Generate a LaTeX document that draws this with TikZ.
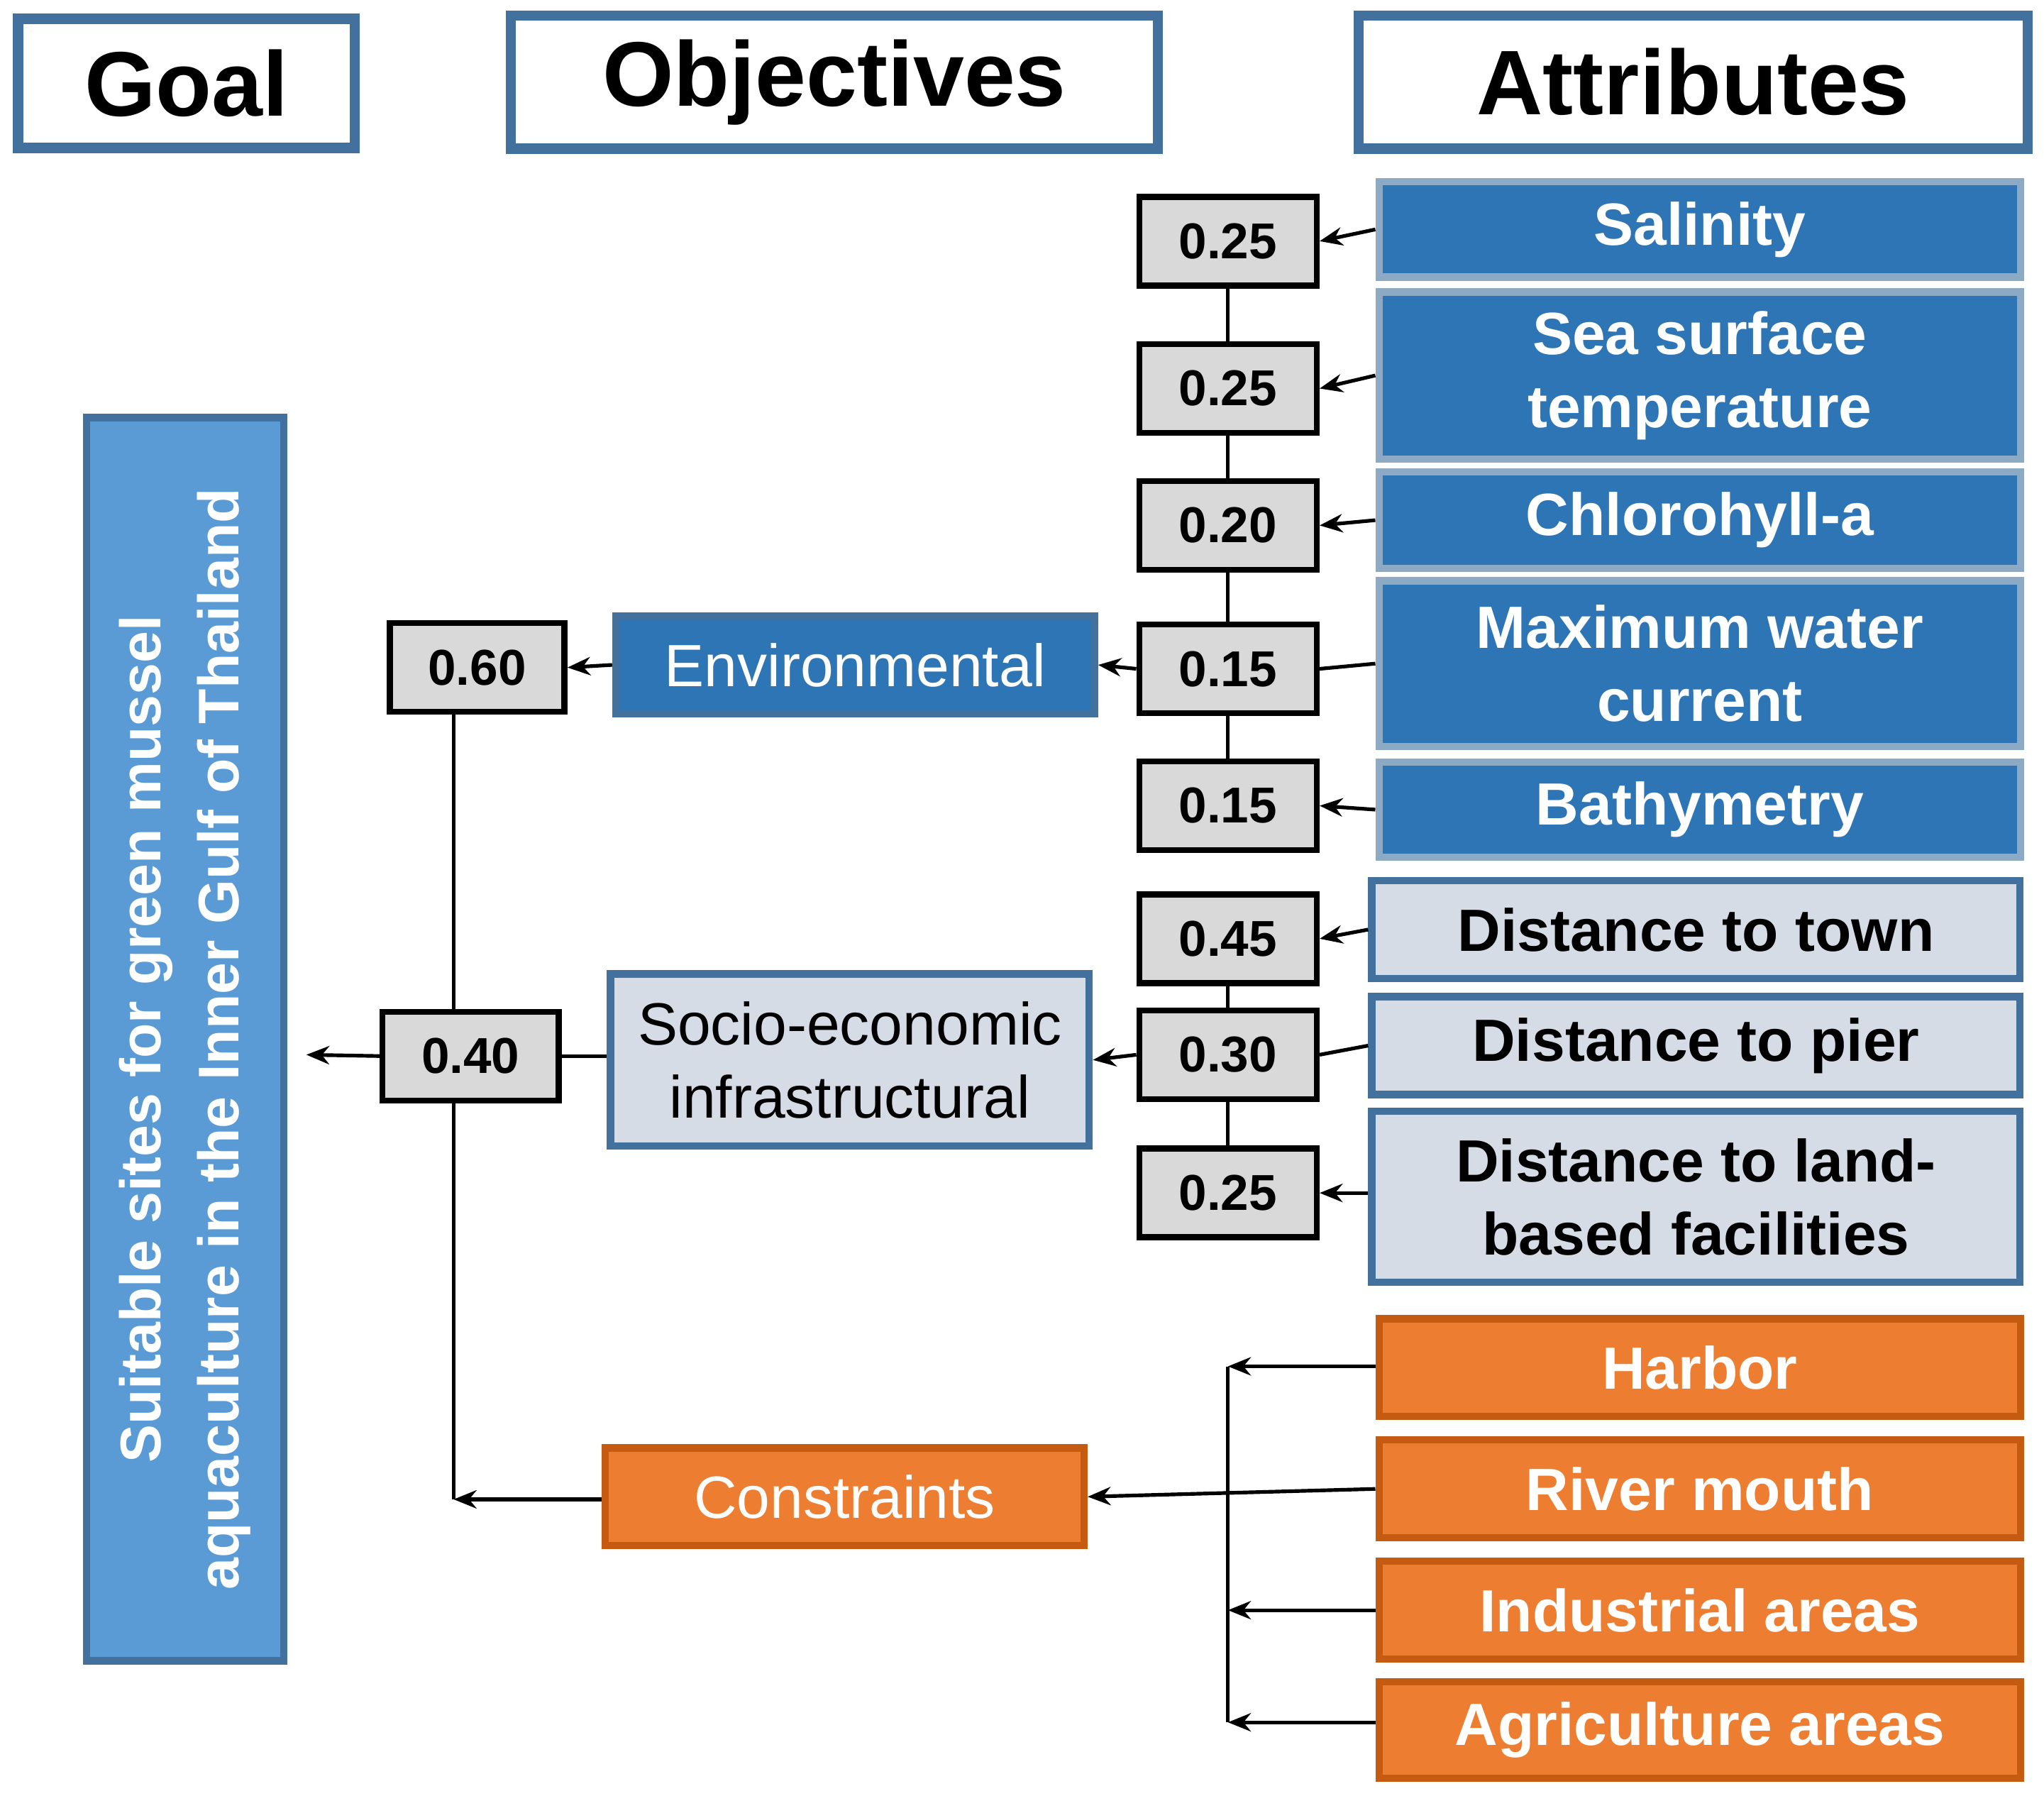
\documentclass[tikz,border=0pt]{standalone}
\usepackage{fontspec}
\setmainfont{Liberation Sans}
\usetikzlibrary{arrows.meta}
\definecolor{dblue}{HTML}{2E75B6}
\definecolor{lblue}{HTML}{5B9BD5}
\definecolor{gblue}{HTML}{D6DCE5}
\definecolor{bord}{HTML}{41719C}
\definecolor{org}{HTML}{ED7D31}
\definecolor{obord}{HTML}{C55A11}
\definecolor{wgray}{HTML}{D9D9D9}
\begin{document}
\begin{tikzpicture}[x=0.01cm,y=-0.01cm,
 head/.style={draw=bord,line width=2.2pt,fill=white,font=\fontsize{20}{24}\selectfont\bfseries,inner sep=0pt},
 att/.style={draw=bord!60,line width=1.6pt,fill=dblue,text=white,font=\fontsize{13}{16}\selectfont\bfseries,align=center,inner sep=0pt},
 satt/.style={draw=bord,line width=1.6pt,fill=gblue,text=black,font=\fontsize{13}{16}\selectfont\bfseries,align=center,inner sep=0pt},
 oatt/.style={draw=obord,line width=1.6pt,fill=org,text=white,font=\fontsize{13}{16}\selectfont\bfseries,align=center,inner sep=0pt},
 wt/.style={draw=black,line width=1.3pt,fill=wgray,font=\fontsize{11}{13}\selectfont\bfseries,minimum width=1.36cm,minimum height=0.68cm,inner sep=0pt},
 obj/.style={line width=1.6pt,font=\fontsize{13}{16}\selectfont,align=center,inner sep=0pt,minimum width=3.67cm},
 ln/.style={line width=0.8pt},
 ar/.style={line width=0.8pt,-{Stealth[length=5pt,width=4pt]}}]
\useasboundingbox (0,0) rectangle (1568,1377);
% headers
\node[head,minimum width=2.58cm,minimum height=0.99cm] (hg) at (143,64) {Goal};
\node[head,minimum width=4.96cm,minimum height=1.02cm] (ho) at (640,63) {Objectives};
\node[head,minimum width=5.13cm,minimum height=1.02cm] (ha) at (1299,63) {Attributes};
% goal
\node[draw=bord,line width=1.6pt,fill=lblue,text=white,minimum width=1.51cm,minimum height=9.53cm,inner sep=0pt] (goal) at (142,797) {};
\node[rotate=90,text=white,font=\fontsize{12.5}{17}\selectfont\bfseries,align=center] at (goal.center) {Suitable sites for green mussel\\aquaculture in the Inner Gulf of Thailand};
% attributes
\node[att,minimum width=4.92cm,minimum height=0.73cm] (a1) at (1304,176) {Salinity};
\node[att,minimum width=4.92cm,minimum height=1.28cm] (a2) at (1304,288) {Sea surface\\temperature};
\node[att,minimum width=4.92cm,minimum height=0.74cm] (a3) at (1304,399) {Chlorohyll-a};
\node[att,minimum width=4.92cm,minimum height=1.27cm] (a4) at (1304,509) {Maximum water\\current};
\node[att,minimum width=4.92cm,minimum height=0.73cm] (a5) at (1304,621) {Bathymetry};
\node[satt,minimum width=4.97cm,minimum height=0.75cm] (s1) at (1301,713) {Distance to town};
\node[satt,minimum width=4.97cm,minimum height=0.75cm] (s2) at (1301,802) {Distance to pier};
\node[satt,minimum width=4.97cm,minimum height=1.31cm] (s3) at (1301,918) {Distance to land-\\based facilities};
\node[oatt,minimum width=4.92cm,minimum height=0.75cm] (c1) at (1304,1049) {Harbor};
\node[oatt,minimum width=4.92cm,minimum height=0.75cm] (c2) at (1304,1142) {River mouth};
\node[oatt,minimum width=4.92cm,minimum height=0.75cm] (c3) at (1304,1235) {Industrial areas};
\node[oatt,minimum width=4.92cm,minimum height=0.74cm] (c4) at (1304,1327) {Agriculture areas};
% weights
\node[wt] (w1) at (942,185) {0.25};
\node[wt] (w2) at (942,298) {0.25};
\node[wt] (w3) at (942,403) {0.20};
\node[wt] (w4) at (942,513) {0.15};
\node[wt] (w5) at (942,618) {0.15};
\node[wt] (w6) at (942,720) {0.45};
\node[wt] (w7) at (942,809) {0.30};
\node[wt] (w8) at (942,915) {0.25};
\node[wt,minimum width=1.34cm] (wa) at (366,512) {0.60};
\node[wt,minimum width=1.35cm] (wb) at (361,810) {0.40};
% objectives
\node[obj,draw=bord,fill=dblue,text=white,minimum height=0.75cm] (env) at (656,510) {Environmental};
\node[obj,draw=bord,fill=gblue,minimum height=1.32cm] (soc) at (652,813) {Socio-economic\\infrastructural};
\node[obj,draw=obord,fill=org,text=white,minimum height=0.75cm] (con) at (648,1148) {Constraints};
% connectors
\draw[ln] (w1) -- (w2) (w2) -- (w3) (w3) -- (w4) (w4) -- (w5);
\draw[ln] (w6) -- (w7) (w7) -- (w8);
\draw[ar] (a1.west) -- (w1.east);
\draw[ar] (a2.west) -- (w2.east);
\draw[ar] (a3.west) -- (w3.east);
\draw[ln] (a4.west) -- (w4.east);
\draw[ar] (a5.west) -- (w5.east);
\draw[ar] (s1.west) -- (w6.east);
\draw[ln] (s2.west) -- (w7.east);
\draw[ar] (s3.west|-w8) -- (w8.east);
\draw[ar] (w4.west) -- (env.east);
\draw[ar] (w7.west) -- (soc.east);
\draw[ar] (env.west) -- (wa.east);
\draw[ln] (soc.west|-wb) -- (wb.east);
\draw[ln] (wa.south-|348,0) -- (wb.north-|348,0);
\coordinate (gin) at (235,809);
\draw[ar] (wb.west) -- (gin);
\coordinate (cb) at (348,1150);
\draw[ln] (wb.south-|348,0) -- (cb);
\draw[ar] (con.west|-cb) -- (cb);
\coordinate (v1) at (942,1048);
\coordinate (v2) at (942,1235);
\coordinate (v3) at (942,1321);
\draw[ln] (v1) -- (v3);
\draw[ar] (c1.west|-v1) -- (v1);
\draw[ar] (c3.west) -- (v2);
\draw[ar] (c4.west|-v3) -- (v3);
\draw[ar] (c2.west) -- (con.east);
\end{tikzpicture}
\end{document}
